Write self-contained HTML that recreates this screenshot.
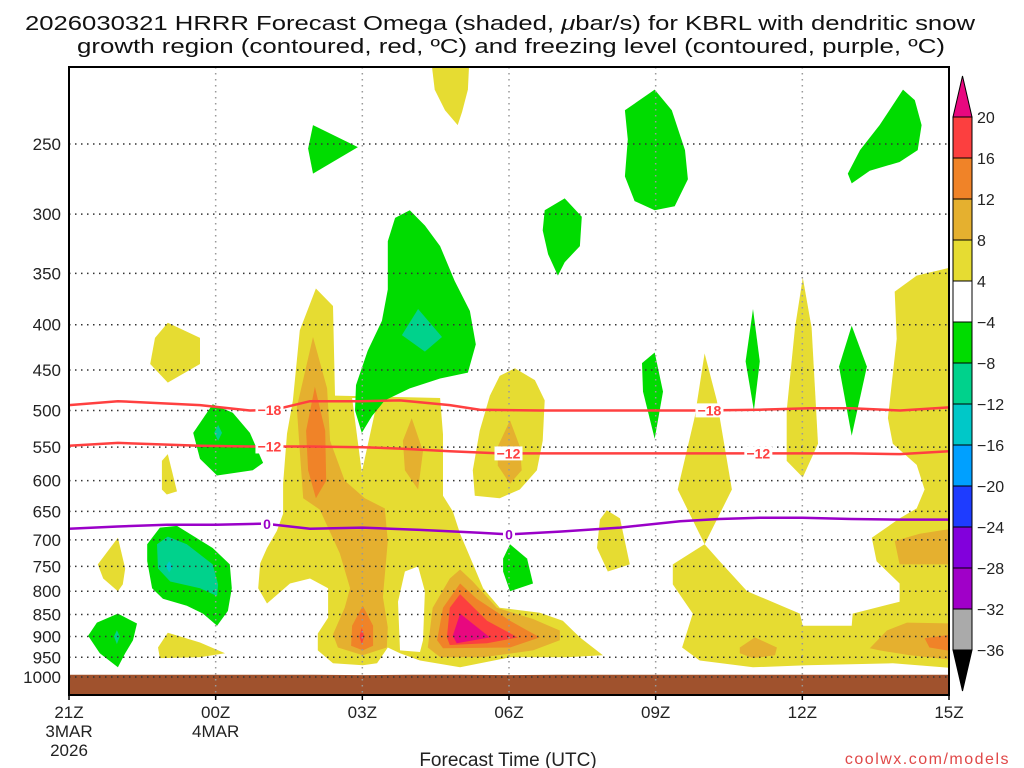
<!DOCTYPE html>
<html><head><meta charset="utf-8"><title>HRRR Omega KBRL</title>
<style>
html,body{margin:0;padding:0;background:#fff;}
svg{display:block;font-family:"Liberation Sans",sans-serif;}
</style></head>
<body>
<svg id="chart" xmlns="http://www.w3.org/2000/svg" width="1024" height="768" viewBox="0 0 1024 768">
<rect x="0" y="0" width="1024" height="768" fill="#fff"/>
<g font-size="20" fill="#111">
<text x="500" y="30" text-anchor="middle" textLength="950" lengthAdjust="spacingAndGlyphs">2026030321 HRRR Forecast Omega (shaded, <tspan font-style="italic">μ</tspan>bar/s) for KBRL with dendritic snow</text>
<text x="511" y="53" text-anchor="middle" textLength="868" lengthAdjust="spacingAndGlyphs">growth region (contoured, red, ºC) and freezing level (contoured, purple, ºC)</text>
</g>
<defs><clipPath id="plotclip"><rect x="69" y="67" width="880" height="628"/></clipPath></defs>
<g id="shading" clip-path="url(#plotclip)"></g>
<g id="ground" clip-path="url(#plotclip)"></g>
<g id="grid"></g>
<g id="contours" clip-path="url(#plotclip)"></g>
<rect x="69" y="67" width="880" height="628" fill="none" stroke="#000" stroke-width="2"/>
<g id="yaxis" font-size="17" fill="#222"></g>
<g id="xaxis" font-size="17" fill="#222"></g>
<text x="508" y="766" text-anchor="middle" font-size="19" fill="#222">Forecast Time (UTC)</text>
<text x="1010" y="764" text-anchor="end" font-size="16" fill="#e04848" letter-spacing="1.5">coolwx.com/models</text>
<g id="colorbar"></g>
</svg>
<script>
// ---- axes ----
const hourTicks = [0, 3, 6, 9, 12, 15, 18];
const hourLabels = [["21Z","3MAR","2026"],["00Z","4MAR"],["03Z"],["06Z"],["09Z"],["12Z"],["15Z"]];
const pressureTicks = [250,300,350,400,450,500,550,600,650,700,750,800,850,900,950,1000];
const X0 = 69, X1 = 949, HMAX = 18;
function xs(h){ return X0 + (X1 - X0) * h / HMAX; }
function ys(p){ return 144 + 384.5 * Math.log(p / 250); }
const NS = "http://www.w3.org/2000/svg";
function mk(tag, attrs, parent){ const e = document.createElementNS(NS, tag); for (const k in attrs) e.setAttribute(k, attrs[k]); parent.appendChild(e); return e; }

// ---- omega shading polygons [hour, hPa] ----
const colors = {pink:"#e8087f", red:"#fc3f3f", dorange:"#f08328", orange:"#e5b02f", yellow:"#e6dc32", white:"#ffffff", green:"#00dc00", teal:"#00d28c", cyan:"#00c8c8"};
const yellowBig = [[5.05,364],[5.4,381],[5.44,481],[7.59,484],[7.65,532],[7.65,624],[7.85,650],[8.0,689],[8.24,740],[8.47,794],[8.81,835],[9.63,846],[10.1,864],[10.45,902],[10.92,945],[10.18,950],[9.02,950],[8.0,975],[7.18,958],[6.77,940],[6.52,926],[6.3,965],[6.01,970],[5.4,965],[5.09,933],[5.09,893],[5.3,857],[5.3,794],[4.93,774],[4.52,784],[4.05,826],[3.87,794],[3.91,744],[4.05,715],[4.25,684],[4.38,654],[4.38,605],[4.46,531],[4.58,487],[4.72,406]];
const holeV = [[5.79,484],[6.32,484],[5.99,587]];
const hole2 = [[6.77,933],[6.73,822],[6.87,760],[7.14,750],[7.28,800],[7.24,909],[7.18,937]];
const yellowTop = [[7.38,195],[8.2,195],[8.16,217],[8.04,230],[7.95,238],[7.69,229],[7.48,217]];
const yellow22a = [[1.76,414],[2.02,398],[2.68,414],[2.68,443],[2.02,465],[1.66,443]];
const yellow22b = [[1.9,570],[2.02,560],[2.21,617],[2.0,622],[1.9,614]];
const yellow22c = [[0.59,746],[1.0,696],[1.15,754],[1.1,786],[1.0,800],[0.7,774]];
const yellow23 = [[1.82,926],[2.02,891],[2.68,914],[3.19,940],[2.68,950],[1.86,952]];
const yellow06 = [[9.12,448],[9.53,462],[9.73,487],[9.69,541],[9.57,584],[9.22,614],[8.81,628],[8.3,624],[8.26,584],[8.4,527],[8.61,481],[8.81,457]];
const yellow08 = [[10.8,715],[10.86,664],[11.0,648],[11.27,662],[11.47,746],[11.02,760]];
const yellow10 = [[13.0,431],[13.25,487],[13.56,614],[13.0,708],[12.45,614],[12.8,508]];
const yellow12 = [[15.01,354],[15.19,403],[15.32,545],[15.01,595],[14.68,570],[14.68,500],[14.85,403]];
const yellowRight = [[13.0,708],[13.31,740],[13.87,800],[14.95,848],[15.01,875],[16.01,875],[16.03,848],[16.99,822],[16.99,784],[16.52,740],[16.42,696],[16.99,662],[17.34,645],[17.5,614],[17.34,576],[16.85,545],[16.75,510],[16.93,415],[16.89,367],[17.34,352],[18.2,343],[18.2,978],[16.85,965],[15.09,970],[13.99,975],[12.9,958],[12.54,926],[12.76,848],[12.35,786],[12.35,746]];
const orange03 = [[4.99,413],[5.28,472],[5.34,541],[5.64,600],[6.05,628],[6.46,645],[6.52,702],[6.42,812],[6.52,879],[6.5,926],[6.01,945],[5.5,926],[5.4,895],[5.64,835],[5.75,794],[5.54,725],[5.13,647],[4.79,628],[4.72,556],[4.66,496]];
const dorange03a = [[5.03,470],[5.24,527],[5.26,600],[5.05,628],[4.89,584],[4.85,527]];
const dorange03b = [[6.01,831],[6.22,875],[6.22,922],[6.01,933],[5.77,922],[5.79,875]];
const red03 = [[5.99,880],[6.04,900],[5.99,918],[5.94,900]];
const orange04 = [[7.01,510],[7.24,556],[7.14,614],[6.87,584],[6.83,541]];
const orange05 = [[7.34,926],[7.44,835],[7.79,774],[8.0,756],[8.26,780],[8.75,835],[9.49,860],[10.04,886],[10.04,909],[9.49,933],[8.47,950],[7.59,950]];
const dorange05 = [[7.53,909],[7.65,835],[8.0,784],[8.34,816],[9.02,864],[9.63,902],[9.02,926],[7.65,928]];
const red05 = [[7.73,902],[7.79,835],[8.0,806],[8.55,864],[9.18,902],[8.55,916],[7.79,920]];
const pink05 = [[7.85,898],[8.0,848],[8.61,902],[7.93,916]];
const orange06 = [[9.02,513],[9.22,549],[9.26,584],[9.02,605],[8.77,577],[8.77,549]];
const orangeR1 = [[16.89,702],[17.4,689],[18.2,678],[18.2,746],[16.99,746]];
const orangeR2 = [[16.38,928],[16.73,886],[17.14,868],[18.2,870],[18.2,958],[17.2,945],[16.58,933]];
const dorangeR = [[17.5,904],[18.2,893],[18.2,938],[17.6,926]];
const orange11 = [[13.72,926],[14.03,902],[14.48,926],[14.44,945],[13.99,952],[13.72,940]];
const green02 = [[4.99,238],[5.91,252],[4.99,270],[4.89,253]];
const green04 = [[6.67,303],[6.97,297],[7.28,309],[7.59,326],[7.89,357],[8.2,386],[8.32,421],[8.16,453],[7.59,460],[6.97,472],[6.46,487],[6.2,507],[5.99,530],[5.85,500],[5.87,468],[6.11,428],[6.4,396],[6.52,365],[6.52,322]];
const teal04 = [[7.14,384],[7.63,413],[7.28,429],[6.81,411]];
const green00a = [[2.54,530],[2.94,492],[3.35,503],[3.7,530],[3.97,573],[3.76,584],[3.03,592],[2.68,567]];
const teal00a = [[3.05,519],[3.13,530],[3.05,541],[2.97,530]];
const green00b = [[1.6,708],[1.86,678],[2.21,675],[2.94,715],[3.29,746],[3.33,794],[3.25,842],[3.03,875],[2.74,848],[2.41,831],[1.92,816],[1.7,794],[1.6,740]];
const teal00b = [[1.8,708],[2.02,694],[2.41,708],[2.94,746],[3.05,786],[3.03,810],[2.68,794],[2.07,780],[1.82,754]];
const cyan00b = [[2.05,740],[2.12,750],[2.05,762],[1.98,750]];
const green22 = [[0.39,898],[0.57,868],[1.0,848],[1.39,870],[1.31,909],[1.15,940],[1.0,975],[0.63,940]];
const teal22 = [[0.98,885],[1.04,900],[0.98,918],[0.92,900]];
const green06 = [[8.88,735],[9.02,708],[9.37,735],[9.49,784],[9.02,800],[8.88,760]];
const green07 = [[9.73,297],[10.14,288],[10.49,302],[10.45,326],[10.14,340],[10,352],[9.8,333],[9.69,313]];
const green09 = [[11.37,229],[11.98,217],[12.33,229],[12.6,254],[12.66,274],[12.39,294],[11.98,297],[11.57,290],[11.37,272],[11.43,247]];
const green14 = [[15.93,270],[16.18,254],[16.58,238],[17.06,217],[17.3,223],[17.44,238],[17.36,254],[16.99,262],[16.38,268],[16.01,277]];
const green10 = [[11.98,430],[12.15,476],[11.98,538],[11.74,476],[11.72,442]];
const green11 = [[13.99,384],[14.13,440],[14.01,500],[13.84,440]];
const green13 = [[16.01,401],[16.32,446],[16.01,534],[15.75,446]];

const layers = [
 ["yellow-region-03z", yellowBig, "yellow"], ["white-gap-03z", holeV, "white"], ["white-gap-04z", hole2, "white"],
 ["yellow-region-top", yellowTop, "yellow"], ["yellow-region-22z-a", yellow22a, "yellow"], ["yellow-region-22z-b", yellow22b, "yellow"],
 ["yellow-region-22z-c", yellow22c, "yellow"], ["yellow-region-23z", yellow23, "yellow"], ["yellow-region-06z", yellow06, "yellow"],
 ["yellow-region-08z", yellow08, "yellow"], ["yellow-region-10z", yellow10, "yellow"], ["yellow-region-12z", yellow12, "yellow"],
 ["yellow-region-right", yellowRight, "yellow"],
 ["orange-region-03z", orange03, "orange"], ["dark-orange-03z-upper", dorange03a, "dorange"], ["dark-orange-03z-lower", dorange03b, "dorange"],
 ["red-core-03z", red03, "red"], ["orange-region-04z", orange04, "orange"],
 ["orange-region-05z", orange05, "orange"], ["dark-orange-05z", dorange05, "dorange"], ["red-region-05z", red05, "red"], ["pink-core-05z", pink05, "pink"],
 ["orange-region-06z", orange06, "orange"], ["orange-region-right-mid", orangeR1, "orange"], ["orange-region-right-low", orangeR2, "orange"],
 ["dark-orange-right-low", dorangeR, "dorange"], ["orange-region-11z", orange11, "orange"],
 ["green-region-02z", green02, "green"], ["green-region-04z", green04, "green"], ["teal-core-04z", teal04, "teal"],
 ["green-region-00z-upper", green00a, "green"], ["teal-core-00z-upper", teal00a, "teal"],
 ["green-region-00z-lower", green00b, "green"], ["teal-core-00z-lower", teal00b, "teal"], ["cyan-core-00z", cyan00b, "cyan"],
 ["green-region-22z", green22, "green"], ["teal-core-22z", teal22, "teal"], ["green-region-06z", green06, "green"],
 ["green-region-07z", green07, "green"], ["green-region-09z", green09, "green"], ["green-region-14z", green14, "green"],
 ["green-region-10z", green10, "green"], ["green-region-11z", green11, "green"], ["green-region-13z", green13, "green"]
];
const shading = document.getElementById("shading");
layers.forEach(([name, pts, c]) => {
  const el = mk("polygon", {points: pts.map(q => xs(q[0]).toFixed(1) + "," + ys(q[1]).toFixed(1)).join(" "), fill: colors[c]}, shading);
  
  
});

// ---- ground (surface pressure) ----
const surfHours = [0,1,2,3,4,5,6,7,8,9,10,11,12,13,14,15,16,17,18];
const surfPres = [994,994,994,994,994,994,995,994,994,995,994,994,994,994,994,994,994,994,994];
const ground = document.getElementById("ground");
let gp = surfHours.map((h,i) => xs(h).toFixed(1) + "," + ys(surfPres[i]).toFixed(1));
gp.push(xs(18) + "," + 700, xs(0) + "," + 700);
const gEl = mk("polygon", {points: gp.join(" "), fill: "#a0522d"}, ground);



// ---- grid ----
const grid = document.getElementById("grid");
pressureTicks.forEach(p => {
  const l = mk("line", {x1: X0, x2: X1, y1: ys(p), y2: ys(p), stroke: "#333", "stroke-width": 1.5, "stroke-dasharray": "1.5 4.5"}, grid);
  
  
});
hourTicks.slice(1, -1).forEach(h => {
  const l = mk("line", {x1: xs(h), x2: xs(h), y1: 67, y2: 695, stroke: "#999", "stroke-width": 1.5, "stroke-dasharray": "1.5 4.5"}, grid);
  
  
});

// ---- contours ----
const c18Hours = [0,1,2.68,3.7,4.2,4.93,5.95,6.77,7.79,8.4,9.63,10.86,12,12.9,14.13,15.15,16,17,18];
const c18Pres =  [493,488,493,500,499,488,488,487,493,499,500,500,500,500,499,497,497,500,496];
const c12Hours = [0,1,2.68,3.7,4.93,6,6.77,7.79,8.81,9.84,10.86,12,13.3,14.54,16,17,18];
const c12Pres =  [548,544,548,549,549,550,552,556,559,559,559,559,559,559,559,560,556];
const c0Hours = [0,1,2,3,4,4.93,6,7.18,8.4,9,10.04,11.27,12.5,13.3,14.13,15,16,17,18];
const c0Pres =  [680,676,673,673,671,680,678,682,687,690,685,678,667,663,661,661,663,664,664];
const contourDefs = [
  ["contour-minus18", c18Hours, c18Pres, "#ff4040", [["−18",4.1],["−18",13.1]]],
  ["contour-minus12", c12Hours, c12Pres, "#ff4040", [["−12",4.1],["−12",8.99],["−12",14.1]]],
  ["freezing-level-0c", c0Hours, c0Pres, "#9a00c8", [["0",4.05],["0",9.0]]]
];
const contours = document.getElementById("contours");
function interpP(hs, ps, h){ for (let i=0;i<hs.length-1;i++){ if (h>=hs[i] && h<=hs[i+1]){ const t=(h-hs[i])/(hs[i+1]-hs[i]); return ps[i]+t*(ps[i+1]-ps[i]); } } return ps[ps.length-1]; }
contourDefs.forEach(([name, hs, ps, col, labs]) => {
  const pl = mk("polyline", {points: hs.map((h,i) => xs(h).toFixed(1) + "," + ys(ps[i]).toFixed(1)).join(" "), fill: "none", stroke: col, "stroke-width": 2.5}, contours);
  
  
  labs.forEach(([t, h]) => {
    const x = xs(h), y = ys(interpP(hs, ps, h));
    const w = t.length * 8 + 4;
    const bg = mk("rect", {x: x - w/2, y: y - 7, width: w, height: 14, fill: "#fff"}, contours);
    
    
    const tx = mk("text", {x: x, y: y + 5, "text-anchor": "middle", "font-size": 14, "font-weight": "bold", fill: col}, contours);
    tx.textContent = t;
    
    
  });
});

// ---- axis labels ----
const yaxis = document.getElementById("yaxis");
pressureTicks.forEach(p => {
  const t = mk("text", {x: 61, y: ys(p) + 6, "text-anchor": "end"}, yaxis);
  t.textContent = p;
  
  
});
const xaxis = document.getElementById("xaxis");
hourTicks.forEach((h,i) => {
  const tk = mk("line", {x1: xs(h), x2: xs(h), y1: 695, y2: 700, stroke: "#000", "stroke-width": 1.5}, xaxis);
  
  
  hourLabels[i].forEach((s, j) => {
    const t = mk("text", {x: xs(h), y: 718 + j * 19, "text-anchor": "middle"}, xaxis);
    t.textContent = s;
    
    
  });
});

// ---- colorbar ----
const cbLevels = [20,16,12,8,4,-4,-8,-12,-16,-20,-24,-28,-32,-36];
const cbColors = ["#fc3f3f","#f08328","#e5b02f","#e6dc32","#ffffff","#00dc00","#00d28c","#00c8c8","#00a0ff","#1e3cff","#8200dc","#a000c8","#aaaaaa"];
const cb = document.getElementById("colorbar");
const CBX = 953, CBW = 19, CBT = 117, CBS = 41;
const cbTop = mk("polygon", {points: `${CBX},${CBT} ${CBX+CBW},${CBT} ${CBX+CBW/2},${CBT-41}`, fill: "#e8087f", stroke: "#000", "stroke-width": 1}, cb);


cbColors.forEach((c,i) => {
  const r = mk("rect", {x: CBX, y: CBT + i*CBS, width: CBW, height: CBS, fill: c, stroke: "#000", "stroke-width": 1}, cb);
  
  
});
const cbBot = mk("polygon", {points: `${CBX},${CBT+13*CBS} ${CBX+CBW},${CBT+13*CBS} ${CBX+CBW/2},${CBT+13*CBS+41}`, fill: "#000", stroke: "#000", "stroke-width": 1}, cb);


cbLevels.forEach((v,i) => {
  const t = mk("text", {x: 977, y: CBT + i*CBS + 6, "font-size": 16, fill: "#222"}, cb);
  t.textContent = v < 0 ? "−" + Math.abs(v) : String(v);
  
  
});
</script>
</body></html>
